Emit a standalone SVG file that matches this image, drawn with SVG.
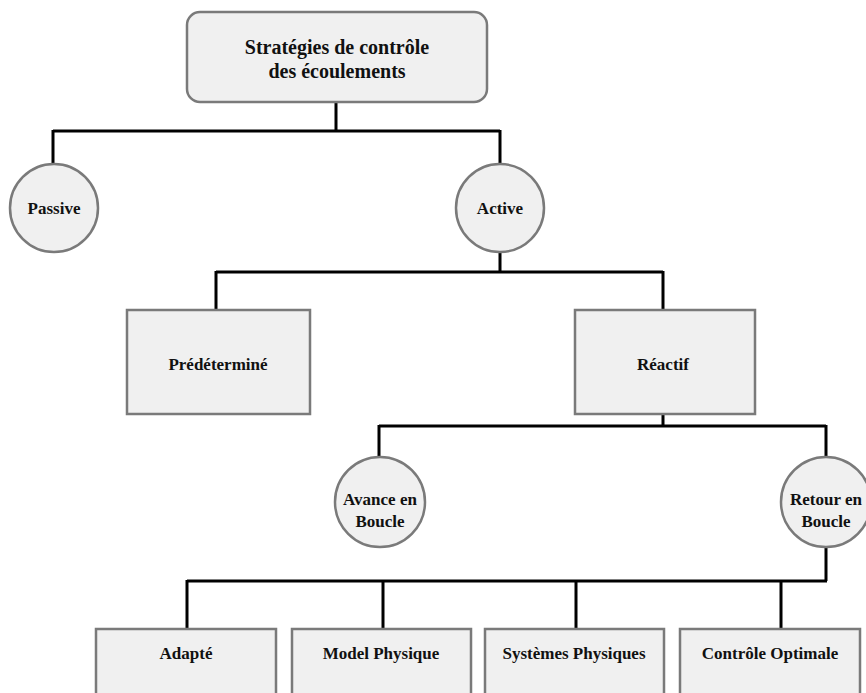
<svg xmlns="http://www.w3.org/2000/svg" width="866" height="693" viewBox="0 0 866 693">
<style>
.box{fill:#f0f0f0;stroke:#7a7a7a;stroke-width:2.5}
.t{font-family:"Liberation Serif","Times New Roman",serif;font-weight:bold;font-size:17px;fill:#111;text-anchor:middle}
.tt{font-size:20px}
.c{fill:none;stroke:#000;stroke-width:3}
</style>
<rect width="866" height="693" fill="#fff"/>
<g id="connectors">
<path class="c" d="M336,102V131M53,131H500M53,130V163M500,130V163"/>
<path class="c" d="M500,253V272M216,272H663M216,271V310M663,271V310"/>
<path class="c" d="M663,414V426M379,426H826M379,425V458M826,425V458"/>
<path class="c" d="M826,547V581M187,581H827M187,580V629M383,581V629M576,581V629M781,581V629"/>
</g>
<g id="root"><rect class="box" x="187" y="12" width="300" height="90" rx="13"/>
<text class="t tt" x="337" y="54">Stratégies de contrôle</text><text class="t tt" x="337" y="78">des écoulements</text></g>
<g id="passive"><circle class="box" cx="54" cy="208" r="44"/><text class="t" x="54" y="214">Passive</text></g>
<g id="active"><circle class="box" cx="500" cy="208" r="44"/><text class="t" x="500" y="214">Active</text></g>
<g id="predetermine"><rect class="box" x="127" y="310" width="183" height="104"/><text class="t" x="218" y="370">Prédéterminé</text></g>
<g id="reactif"><rect class="box" x="575" y="310" width="180" height="104"/><text class="t" x="663" y="370">Réactif</text></g>
<g id="avance"><circle class="box" cx="380" cy="502" r="45"/><text class="t" x="380" y="505">Avance en</text><text class="t" x="380" y="527">Boucle</text></g>
<g id="retour"><circle class="box" cx="826" cy="502" r="45"/><text class="t" x="826" y="505">Retour en</text><text class="t" x="826" y="527">Boucle</text></g>
<g id="adapte"><rect class="box" x="96" y="629" width="180" height="80"/><text class="t" x="186" y="659">Adapté</text></g>
<g id="model"><rect class="box" x="292" y="629" width="179" height="80"/><text class="t" x="381" y="659">Model Physique</text></g>
<g id="systemes"><rect class="box" x="485" y="629" width="179" height="80"/><text class="t" x="574" y="659">Systèmes Physiques</text></g>
<g id="controle"><rect class="box" x="680" y="629" width="180" height="80"/><text class="t" x="770" y="659">Contrôle Optimale</text></g>
</svg>
